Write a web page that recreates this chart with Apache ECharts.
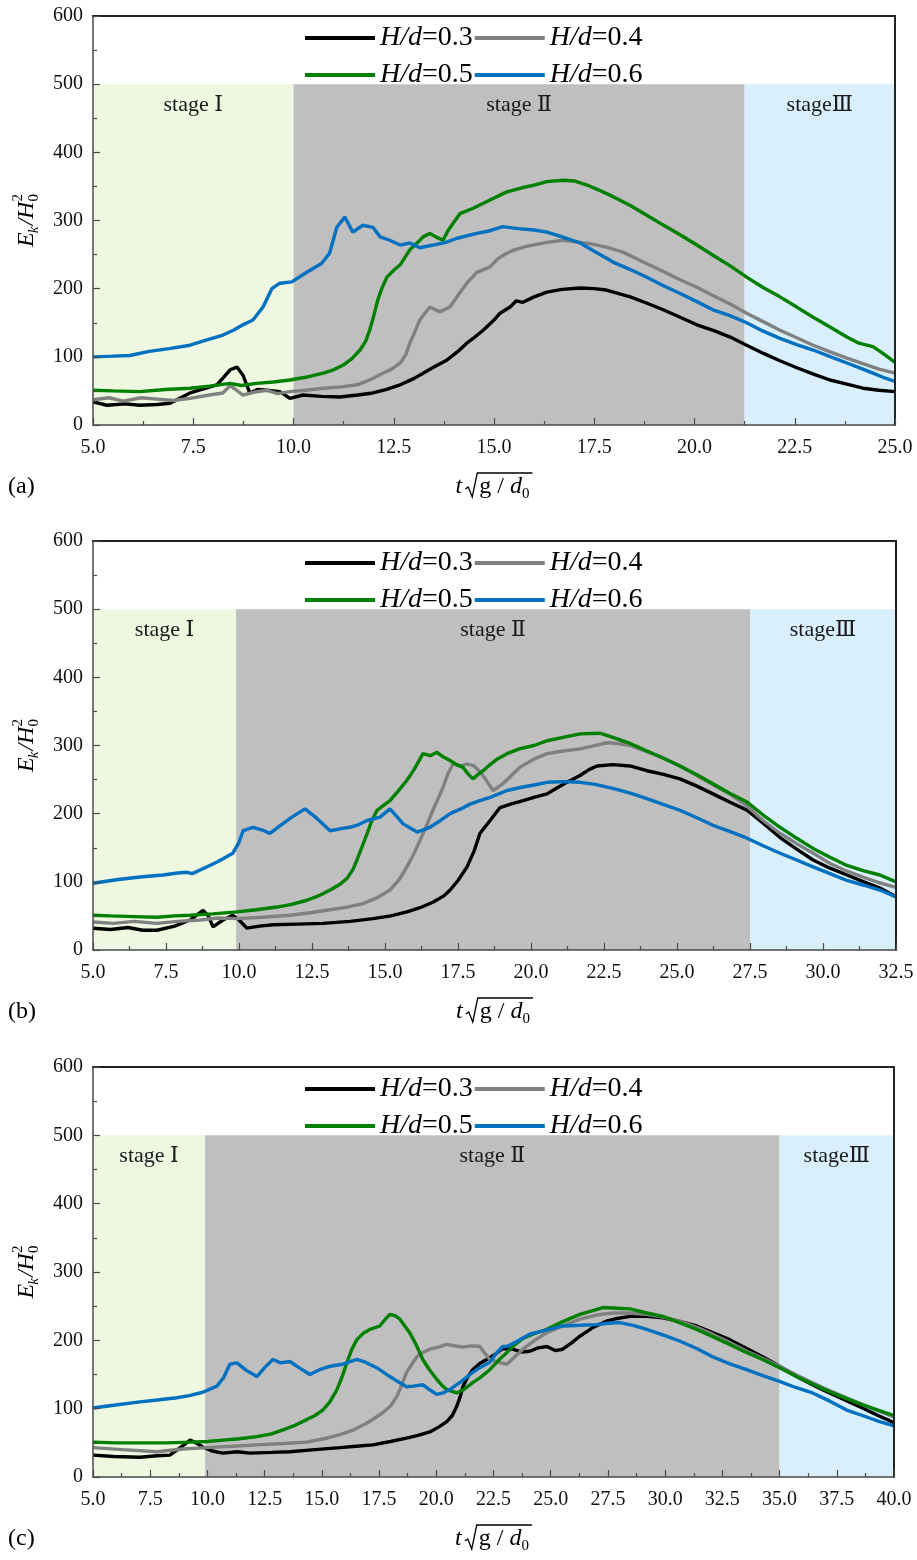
<!DOCTYPE html>
<html>
<head>
<meta charset="utf-8">
<script src="https://cdn.jsdelivr.net/npm/echarts@6/dist/echarts.min.js"></script>
<style>
  html, body { margin: 0; padding: 0; background: #ffffff; }
  #chart { width: 917px; height: 1560px; }
</style>
</head>
<body>
<div id="chart"></div>
<script>
// ---- Series names, colours, tick settings ----
const seriesNames = ['H/d=0.3', 'H/d=0.4', 'H/d=0.5', 'H/d=0.6'];
const seriesColors = ['#000000', '#808080', '#008000', '#0070C0'];
const panelTags = ['(a)', '(b)', '(c)'];
const stageNames = ['stage \u2160', 'stage \u2161', 'stage\u2162'];
const stageColors = ['#EEF8E1', '#BFBFBF', '#D9EFFB'];
const stageTop = 500;
const yMin = 0, yMax = 600, yStep = 100;
const xMin = 5, xStep = 2.5;
const xMaxes = [25, 32.5, 40];
// stage boundaries on the time axis for each panel
const stageEdgesA = [5, 10, 21.25, 25];
const stageEdgesB = [5, 9.9, 27.5, 32.5];
const stageEdgesC = [5, 9.9, 35, 40];

// ---- Panel (a): [t*sqrt(g/d0), Ek/H0^2] ----
const a03 = [[5.0,34],[5.35,29],[5.8,31],[6.17,29],[6.6,30],[6.92,32],[7.42,47],[8.09,59],[8.42,81],[8.59,85],[8.74,73],[8.91,47],[9.1,52],[9.34,51],[9.66,49],[9.91,39],[10.24,44],[10.7,42],[11.16,41],[11.6,44],[11.98,47],[12.3,52],[12.66,59],[13.0,68],[13.23,76],[13.5,85],[13.82,95],[14.1,108],[14.32,120],[14.5,128],[14.73,139],[15.0,154],[15.15,164],[15.4,173],[15.55,182],[15.72,180],[16.0,188],[16.32,195],[16.7,199],[17.15,201],[17.5,200],[17.8,198],[18.4,188],[18.8,179],[19.22,169],[19.64,158],[20.06,147],[20.5,138],[20.89,129],[21.3,117],[21.72,105],[22.1,95],[22.55,84],[23.0,74],[23.38,66],[23.8,60],[24.2,54],[24.6,51],[25.0,49]];
const a04 = [[5.0,37],[5.4,40],[5.75,35],[6.2,40],[6.6,38],[7.0,36],[7.42,39],[7.9,44],[8.24,47],[8.42,58],[8.6,50],[8.74,44],[9.0,48],[9.34,51],[9.6,46],[9.91,49],[10.3,51],[10.74,54],[11.2,56],[11.58,59],[11.9,66],[12.23,76],[12.45,82],[12.66,91],[12.8,103],[12.9,120],[13.05,140],[13.15,154],[13.4,173],[13.65,166],[13.9,173],[14.1,190],[14.32,208],[14.57,224],[14.9,232],[15.1,244],[15.32,252],[15.47,256],[15.8,262],[16.32,268],[16.72,271],[17.4,266],[17.8,261],[18.2,254],[18.8,237],[19.2,226],[19.64,213],[20.06,202],[20.46,190],[20.9,177],[21.3,164],[21.7,152],[22.13,139],[22.55,128],[22.96,117],[23.4,107],[23.8,98],[24.2,90],[24.6,82],[25.0,76]];
const a05 = [[5.0,51],[5.5,50],[6.17,49],[6.8,52],[7.42,54],[7.9,57],[8.42,61],[8.7,58],[9.08,61],[9.5,63],[9.91,66],[10.3,70],[10.74,76],[11.0,81],[11.24,88],[11.45,97],[11.66,110],[11.8,123],[11.9,139],[12.0,160],[12.1,183],[12.2,200],[12.33,217],[12.5,227],[12.66,235],[12.9,257],[13.1,268],[13.23,276],[13.4,281],[13.55,276],[13.73,271],[13.85,285],[13.98,296],[14.15,310],[14.48,318],[14.9,330],[15.32,342],[15.7,348],[16.0,352],[16.32,357],[16.72,359],[17.0,358],[17.32,352],[17.6,345],[17.97,335],[18.4,322],[18.8,308],[19.2,294],[19.64,279],[20.06,264],[20.46,249],[20.9,233],[21.3,217],[21.7,202],[22.13,188],[22.55,173],[22.96,158],[23.4,143],[23.8,129],[24.1,120],[24.45,115],[24.7,105],[25.0,92]];
const a06 = [[5.0,100],[5.5,101],[5.92,102],[6.4,108],[6.9,112],[7.42,117],[7.8,124],[8.24,132],[8.5,139],[8.74,147],[8.99,154],[9.24,173],[9.46,200],[9.66,208],[9.96,210],[10.3,223],[10.7,237],[10.9,252],[11.08,290],[11.28,305],[11.48,283],[11.73,293],[11.98,290],[12.16,276],[12.4,271],[12.66,264],[12.9,267],[13.15,260],[13.48,264],[13.8,268],[14.08,274],[14.57,281],[14.9,285],[15.22,291],[15.6,288],[16.0,286],[16.32,283],[16.7,276],[17.15,267],[17.5,255],[17.97,239],[18.4,228],[18.8,217],[19.2,205],[19.64,193],[20.06,181],[20.46,169],[20.9,160],[21.3,150],[21.7,138],[22.13,127],[22.55,118],[22.96,110],[23.4,100],[23.8,91],[24.2,82],[24.45,76],[24.7,70],[25.0,64]];

// ---- Panel (b) ----
const b03 = [[5.0,32],[5.6,30],[6.2,33],[6.7,29],[7.19,29],[7.8,35],[8.32,44],[8.77,58],[8.95,50],[9.11,34],[9.45,44],[9.79,51],[10.0,44],[10.27,32],[10.7,35],[11.16,37],[12.0,38],[12.88,39],[13.8,42],[14.59,46],[15.2,50],[15.75,56],[16.2,62],[16.64,70],[17.0,79],[17.23,88],[17.5,102],[17.81,122],[18.05,145],[18.25,171],[18.6,190],[18.94,209],[19.3,214],[19.73,219],[20.1,224],[20.55,229],[20.9,238],[21.23,246],[21.68,256],[22.0,265],[22.26,270],[22.8,272],[23.39,270],[23.97,263],[24.5,258],[25.1,251],[25.7,240],[26.23,229],[26.8,217],[27.4,205],[27.95,186],[28.53,165],[29.1,148],[29.66,132],[30.24,120],[30.82,110],[31.4,100],[31.95,91],[32.5,78]];
const b04 = [[5.0,41],[5.7,39],[6.4,42],[7.19,39],[7.9,42],[8.66,44],[9.3,47],[9.93,46],[10.8,48],[11.75,51],[12.5,55],[13.12,59],[13.7,63],[14.25,68],[14.7,76],[15.17,88],[15.5,104],[15.75,122],[16.0,142],[16.2,161],[16.45,185],[16.64,205],[16.82,222],[16.99,239],[17.15,258],[17.33,273],[17.6,270],[17.81,273],[18.05,270],[18.25,262],[18.45,250],[18.7,234],[19.04,244],[19.3,255],[19.62,268],[20.1,280],[20.55,288],[21.1,292],[21.68,295],[22.1,299],[22.6,304],[23.0,303],[23.39,300],[23.9,292],[24.52,282],[25.1,270],[25.68,256],[26.2,243],[26.8,229],[27.4,211],[27.95,190],[28.5,172],[29.1,156],[29.7,141],[30.24,127],[30.8,116],[31.37,107],[31.9,99],[32.5,92]];
const b05 = [[5.0,51],[5.6,50],[6.4,49],[7.19,48],[7.8,50],[8.32,51],[9.1,53],[9.93,56],[10.6,59],[11.3,63],[11.8,67],[12.33,73],[12.7,79],[13.12,88],[13.45,96],[13.7,105],[13.9,118],[14.04,132],[14.2,150],[14.39,171],[14.55,190],[14.73,205],[14.95,212],[15.17,219],[15.45,233],[15.75,249],[16.0,265],[16.3,288],[16.55,285],[16.78,290],[17.0,283],[17.23,278],[17.45,272],[17.67,268],[17.85,258],[18.01,251],[18.2,258],[18.36,263],[18.6,272],[18.84,280],[19.18,288],[19.6,295],[20.1,300],[20.55,307],[21.1,312],[21.68,317],[22.36,318],[22.8,312],[23.4,303],[23.97,292],[24.5,282],[25.1,270],[25.68,257],[26.23,244],[26.8,230],[27.4,217],[27.95,198],[28.53,180],[29.1,164],[29.66,149],[30.24,136],[30.82,124],[31.4,116],[31.95,110],[32.5,100]];
const b06 = [[5.0,98],[5.8,103],[6.61,107],[7.4,110],[7.9,113],[8.22,114],[8.4,112],[8.8,120],[9.25,129],[9.79,142],[10.0,158],[10.14,175],[10.48,180],[10.8,176],[11.06,171],[11.4,182],[11.75,193],[12.0,200],[12.26,207],[12.67,193],[13.12,175],[13.5,178],[13.8,180],[14.1,184],[14.39,190],[14.83,195],[15.17,207],[15.4,196],[15.62,185],[16.1,173],[16.54,180],[16.9,190],[17.23,200],[17.6,207],[17.91,214],[18.25,219],[18.6,224],[19.18,234],[19.6,238],[20.1,242],[20.55,246],[21.1,247],[21.68,246],[22.2,243],[22.8,237],[23.4,230],[23.97,222],[24.5,214],[25.1,205],[25.68,194],[26.23,183],[26.8,174],[27.4,164],[27.95,153],[28.53,142],[29.1,132],[29.66,122],[30.24,112],[30.82,102],[31.4,95],[31.95,88],[32.5,78]];

// ---- Panel (c) ----
const c03 = [[5.0,32],[5.9,30],[7.05,29],[7.8,31],[8.36,32],[8.9,45],[9.24,54],[9.5,50],[9.8,44],[10.2,38],[10.68,35],[11.3,37],[11.86,35],[12.8,36],[13.6,37],[14.7,40],[15.79,43],[16.5,45],[17.23,47],[18.0,52],[18.7,57],[19.2,61],[19.72,66],[20.1,73],[20.46,81],[20.7,90],[20.89,103],[21.05,118],[21.16,132],[21.35,145],[21.59,157],[21.9,166],[22.2,172],[22.6,180],[22.9,188],[23.34,187],[23.7,183],[24.08,184],[24.45,189],[24.83,191],[25.2,185],[25.52,187],[25.9,196],[26.27,206],[26.55,212],[26.85,219],[27.43,228],[27.9,232],[28.46,235],[29.2,235],[29.9,233],[30.6,228],[31.38,221],[32.1,211],[32.82,201],[33.5,189],[34.26,176],[35.0,162],[35.74,147],[36.5,134],[37.18,123],[37.9,112],[38.62,101],[39.3,90],[39.9,81],[40.0,79]];
const c04 = [[5.0,43],[6.3,40],[7.79,37],[8.9,41],[9.98,43],[11.1,45],[12.16,47],[13.3,49],[14.34,51],[15.1,56],[15.79,62],[16.4,69],[16.97,79],[17.3,86],[17.66,94],[18.0,104],[18.28,118],[18.5,135],[18.7,153],[18.95,166],[19.15,176],[19.4,182],[19.72,187],[20.1,190],[20.46,194],[20.8,192],[21.16,190],[21.5,192],[21.9,191],[22.1,182],[22.34,172],[22.7,168],[23.08,165],[23.4,175],[23.78,187],[24.3,200],[24.83,211],[25.5,221],[26.27,231],[27.0,237],[27.71,240],[28.4,240],[29.19,238],[29.9,234],[30.63,228],[31.38,219],[32.07,209],[32.8,197],[33.56,184],[34.3,173],[35.0,162],[35.7,150],[36.44,138],[37.2,126],[37.93,116],[38.62,106],[39.3,97],[40.0,88]];
const c05 = [[5.0,51],[6.0,50],[7.05,50],[8.2,50],[9.24,51],[10.0,52],[10.68,54],[11.4,56],[12.16,59],[12.8,63],[13.3,69],[13.85,76],[14.34,84],[14.7,90],[15.04,98],[15.35,110],[15.66,128],[15.9,148],[16.09,167],[16.3,186],[16.53,201],[16.8,210],[17.1,216],[17.53,221],[17.75,230],[17.97,238],[18.2,236],[18.41,231],[18.6,222],[18.84,211],[19.1,195],[19.41,172],[19.7,157],[20.02,143],[20.25,134],[20.46,128],[20.89,123],[21.2,128],[21.59,138],[21.9,145],[22.34,157],[22.7,170],[23.08,182],[23.34,191],[23.8,203],[24.3,210],[24.83,216],[25.5,227],[26.27,238],[26.8,243],[27.28,248],[27.9,247],[28.46,246],[29.2,240],[29.9,235],[30.63,226],[31.38,216],[32.1,205],[32.82,194],[33.5,183],[34.26,172],[35.0,160],[35.74,147],[36.44,136],[37.18,125],[37.9,115],[38.62,106],[39.3,98],[40.0,90]];
const c06 = [[5.0,101],[5.9,105],[7.05,110],[7.9,113],[8.67,116],[9.2,119],[9.8,124],[10.41,133],[10.7,145],[10.98,165],[11.29,167],[11.7,156],[12.16,147],[12.5,160],[12.86,172],[13.2,167],[13.6,169],[14.0,160],[14.48,150],[14.9,157],[15.35,162],[15.9,165],[16.53,172],[16.9,168],[17.4,160],[17.97,147],[18.3,140],[18.7,132],[19.0,133],[19.41,135],[19.7,128],[20.02,121],[20.3,123],[20.59,128],[21.1,140],[21.59,153],[21.9,160],[22.34,168],[22.6,180],[22.9,191],[23.08,191],[23.5,198],[24.08,209],[24.8,215],[25.52,221],[26.3,222],[27.0,223],[27.5,225],[28.0,226],[28.6,222],[29.19,216],[29.9,208],[30.63,199],[31.38,188],[32.07,176],[32.8,166],[33.56,157],[34.3,148],[35.0,140],[35.7,131],[36.44,123],[37.2,111],[37.93,98],[38.62,90],[39.37,81],[39.9,76],[40.0,75]];

const panelSeries = [[a03, a04, a05, a06], [b03, b04, b05, b06], [c03, c04, c05, c06]];
const panelStages = [stageEdgesA, stageEdgesB, stageEdgesC];

// ---- Layout (pixels) ----
const SERIF = '"Liberation Serif", "Times New Roman", "DejaVu Serif", serif';
const layout = [
  { top: 16,   bottom: 425,  left: 93, right: 895 },
  { top: 541,  bottom: 950,  left: 93, right: 896 },
  { top: 1067, bottom: 1477, left: 93, right: 894 }
];

const mctx = document.createElement('canvas').getContext('2d');
function textWidth(txt, font) { mctx.font = font; return mctx.measureText(txt).width; }

function txt(x, y, text, size, italic) {
  return {
    type: 'text', x: x, y: y, silent: true,
    style: {
      text: text, fill: '#000',
      font: (italic ? 'italic ' : '') + size + 'px ' + SERIF,
      align: 'left', verticalAlign: 'middle',
      textAlign: 'left', textVerticalAlign: 'middle'
    }
  };
}

// x-axis title: t * sqrt(g / d0)
function xTitle(cx, cy) {
  const wt = textWidth('t', 'italic 24px ' + SERIF);
  const wg = textWidth('g / ', '24px ' + SERIF);
  const wd = textWidth('d', 'italic 24px ' + SERIF);
  const w0 = textWidth('0', '15px ' + SERIF);
  const radW = 14;
  const total = wt + 3 + radW + wg + wd + w0 + 3;
  let x = cx - total / 2;
  const els = [];
  els.push(txt(x, cy, 't', 24, true));
  x += wt + 3;
  const endX = x + radW + wg + wd + w0 + 3;
  els.push({
    type: 'polyline', silent: true,
    shape: { points: [[x, cy + 2], [x + 3, cy], [x + 7, cy + 10], [x + 12, cy - 14], [endX, cy - 14]] },
    style: { stroke: '#000', lineWidth: 1.3, fill: null }
  });
  x += radW;
  els.push(txt(x, cy, 'g / ', 24, false));
  x += wg;
  els.push(txt(x, cy, 'd', 24, true));
  x += wd;
  els.push(txt(x, cy + 7, '0', 15, false));
  return els;
}

// y-axis title: E_k / H_0^2, rotated to read upward
function yTitle(cx, cy) {
  const wE = textWidth('E', 'italic 24px ' + SERIF);
  const wk = textWidth('k', 'italic 15px ' + SERIF);
  const ws = textWidth('/', 'italic 24px ' + SERIF);
  const wH = textWidth('H', 'italic 24px ' + SERIF);
  const w2 = textWidth('2', '15px ' + SERIF);
  const total = wE + wk + ws + wH + w2;
  const kids = [];
  let x = 0;
  kids.push(txt(x, 0, 'E', 24, true)); x += wE - 1;
  kids.push(txt(x, 7, 'k', 15, true)); x += wk + 1;
  kids.push(txt(x, 0, '/', 24, true)); x += ws;
  kids.push(txt(x, 0, 'H', 24, true)); x += wH;
  kids.push(txt(x, -9, '2', 15, false));
  kids.push(txt(x, 7, '0', 15, false));
  return { type: 'group', x: cx, y: cy + total / 2, rotation: Math.PI / 2, children: kids };
}

const grids = [], xAxes = [], yAxes = [], series = [], legends = [], graphics = [];
const tickColor = '#4a4a4a';

layout.forEach(function (L, i) {
  const xMax = xMaxes[i];
  grids.push({ left: L.left, top: L.top, width: L.right - L.left, height: L.bottom - L.top });

  // bottom axis
  xAxes.push({
    type: 'value', gridIndex: i, min: xMin, max: xMax, interval: xStep, z: 5,
    axisLine: { show: true, onZero: false, lineStyle: { color: tickColor, width: 1.5 } },
    axisTick: { show: true, inside: true, length: 7, lineStyle: { color: tickColor, width: 1.2 } },
    minorTick: { show: true, splitNumber: 2, length: 4, lineStyle: { color: tickColor, width: 1.2 } },
    splitLine: { show: false },
    axisLabel: { show: true, margin: 13, fontFamily: SERIF, fontSize: 20, color: '#111',
      formatter: function (v) { return v.toFixed(1); } }
  });
  // top frame
  xAxes.push({
    type: 'value', gridIndex: i, min: xMin, max: xMax, position: 'top', z: 5,
    axisLine: { show: true, onZero: false, lineStyle: { color: '#222', width: 2 } },
    axisTick: { show: false }, axisLabel: { show: false }, splitLine: { show: false }
  });
  // left axis
  yAxes.push({
    type: 'value', gridIndex: i, min: yMin, max: yMax, interval: yStep, z: 5,
    axisLine: { show: true, onZero: false, lineStyle: { color: tickColor, width: 1.5 } },
    axisTick: { show: true, inside: true, length: 7, lineStyle: { color: tickColor, width: 1.2 } },
    minorTick: { show: true, splitNumber: 2, length: 4, lineStyle: { color: tickColor, width: 1.2 } },
    splitLine: { show: false },
    axisLabel: { show: true, margin: 10, fontFamily: SERIF, fontSize: 20, color: '#111' }
  });
  // right frame
  yAxes.push({
    type: 'value', gridIndex: i, min: yMin, max: yMax, position: 'right', z: 5,
    axisLine: { show: true, onZero: false, lineStyle: { color: '#222', width: 2 } },
    axisTick: { show: false }, axisLabel: { show: false }, splitLine: { show: false }
  });

  // stage bands
  const edges = panelStages[i];
  const bands = [];
  for (let s = 0; s < 3; s++) {
    bands.push([
      { name: stageNames[s], xAxis: edges[s], yAxis: yMin, itemStyle: { color: stageColors[s] } },
      { xAxis: edges[s + 1], yAxis: stageTop }
    ]);
  }
  series.push({
    type: 'line', name: 'stages' + i, xAxisIndex: i * 2, yAxisIndex: i * 2, data: [], z: 1, silent: true,
    markArea: {
      silent: true,
      label: { show: true, position: 'insideTop', distance: 10, fontFamily: SERIF, fontSize: 22, color: '#1a1a1a' },
      data: bands
    }
  });

  // curves
  panelSeries[i].forEach(function (pts, k) {
    series.push({
      type: 'line', name: seriesNames[k], xAxisIndex: i * 2, yAxisIndex: i * 2,
      data: pts, showSymbol: false, symbol: 'none', z: 2 + k * 0.1,
      lineStyle: { color: seriesColors[k], width: 3.4 }, itemStyle: { color: seriesColors[k] }
    });
  });

  // legend, two rows
  const legendBase = {
    orient: 'horizontal', left: 300, itemWidth: 70, itemHeight: 14, itemGap: 2,
    icon: 'path://M0,0 L70,0 L70,4 L0,4 Z',
    selectedMode: false,
    textStyle: {
      fontFamily: SERIF, fontSize: 28, lineHeight: 30, color: '#000',
      rich: {
        i: { fontFamily: SERIF, fontSize: 28, fontStyle: 'italic', color: '#000' },
        n: { fontFamily: SERIF, fontSize: 28, color: '#000' }
      }
    },
    formatter: function (name) {
      const p = name.split('=');
      return '{i|' + p[0] + '}{n|=' + p[1] + '}';
    }
  };
  legends.push(Object.assign({}, legendBase, { top: L.top + 2, data: [seriesNames[0], seriesNames[1]] }));
  legends.push(Object.assign({}, legendBase, { top: L.top + 39, data: [seriesNames[2], seriesNames[3]] }));

  // axis titles and panel tag
  const cx = (L.left + L.right) / 2;
  const ty = L.bottom + 62;
  xTitle(cx, ty).forEach(function (e) { graphics.push(e); });
  graphics.push(txt(8, ty, panelTags[i], 24, false));
  graphics.push(yTitle(27, (L.top + L.bottom) / 2));
});

const chart = echarts.init(document.getElementById('chart'), null, { renderer: 'canvas' });
chart.setOption({
  animation: false,
  backgroundColor: '#ffffff',
  grid: grids,
  xAxis: xAxes,
  yAxis: yAxes,
  legend: legends,
  series: series,
  graphic: graphics
});
</script>
</body>
</html>
